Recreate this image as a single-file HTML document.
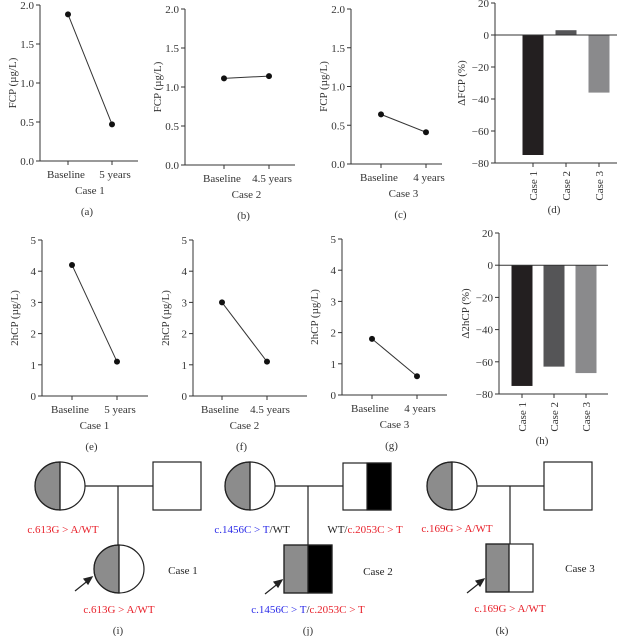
<!DOCTYPE html>
<html><head><meta charset="utf-8">
<style>
html,body{margin:0;padding:0;background:#fff;}
svg{display:block;font-family:"Liberation Serif",serif;}
</style></head>
<body>
<svg id="fig" width="620" height="636" viewBox="0 0 620 636" xmlns="http://www.w3.org/2000/svg">
<!-- Pedigrees -->
<g stroke="#222" stroke-width="1.2">
  <line x1="85" y1="486" x2="153" y2="486"/>
  <line x1="118" y1="486" x2="118" y2="545"/>
  <path d="M60 462 A25 24 0 0 0 60 510 Z" fill="#8c8c8c"/>
  <ellipse cx="60" cy="486" rx="25" ry="24" fill="none"/>
  <line x1="60" y1="462" x2="60" y2="510"/>
  <rect x="153" y="462" width="48" height="48" fill="#fff"/>
  <path d="M119 545 A25 24 0 0 0 119 593 Z" fill="#8c8c8c"/>
  <ellipse cx="119" cy="569" rx="25" ry="24" fill="none"/>
  <line x1="119" y1="545" x2="119" y2="593"/>
  <line x1="75" y1="591" x2="90" y2="579"/>
  <path d="M92 577 L84 579 L88 584 Z" fill="#222"/>
</g>
<text x="63" y="533" font-size="11" fill="#e8202a" text-anchor="middle">c.613G &gt; A/WT</text>
<text x="119" y="613" font-size="11" fill="#e8202a" text-anchor="middle">c.613G &gt; A/WT</text>
<text x="183" y="574" font-size="11" fill="#222" text-anchor="middle">Case 1</text>

<g stroke="#222" stroke-width="1.2">
  <line x1="275" y1="486" x2="343" y2="486"/>
  <line x1="308" y1="486" x2="308" y2="545"/>
  <path d="M250 462 A25 24 0 0 0 250 510 Z" fill="#8c8c8c"/>
  <ellipse cx="250" cy="486" rx="25" ry="24" fill="none"/>
  <line x1="250" y1="462" x2="250" y2="510"/>
  <rect x="343" y="463" width="48" height="47" fill="#fff"/>
  <rect x="367" y="463" width="24" height="47" fill="#000"/>
  <rect x="284" y="545" width="24" height="48" fill="#8c8c8c"/>
  <rect x="308" y="545" width="24" height="48" fill="#000"/>
  <rect x="284" y="545" width="48" height="48" fill="none"/>
  <line x1="265" y1="594" x2="280" y2="582"/>
  <path d="M282 580 L274 582 L278 587 Z" fill="#222"/>
</g>
<text x="252" y="533" font-size="11" text-anchor="middle"><tspan fill="#2a2ae8">c.1456C &gt; T</tspan><tspan fill="#222">/WT</tspan></text>
<text x="365" y="533" font-size="11" text-anchor="middle"><tspan fill="#222">WT/</tspan><tspan fill="#e8202a">c.2053C &gt; T</tspan></text>
<text x="308" y="613" font-size="11" text-anchor="middle"><tspan fill="#2a2ae8">c.1456C &gt; T</tspan><tspan fill="#222">/</tspan><tspan fill="#e8202a">c.2053C &gt; T</tspan></text>
<text x="378" y="575" font-size="11" fill="#222" text-anchor="middle">Case 2</text>

<g stroke="#222" stroke-width="1.2">
  <line x1="477" y1="486" x2="544" y2="486"/>
  <line x1="510" y1="486" x2="510" y2="544"/>
  <path d="M452 462 A25 24 0 0 0 452 510 Z" fill="#8c8c8c"/>
  <ellipse cx="452" cy="486" rx="25" ry="24" fill="none"/>
  <line x1="452" y1="462" x2="452" y2="510"/>
  <rect x="544" y="462" width="48" height="48" fill="#fff"/>
  <rect x="486" y="544" width="23" height="48" fill="#8c8c8c"/>
  <rect x="486" y="544" width="47" height="48" fill="none"/>
  <line x1="509" y1="544" x2="509" y2="592"/>
  <line x1="467" y1="593" x2="482" y2="581"/>
  <path d="M484 579 L476 581 L480 586 Z" fill="#222"/>
</g>
<text x="457" y="532" font-size="11" fill="#e8202a" text-anchor="middle">c.169G &gt; A/WT</text>
<text x="510" y="612" font-size="11" fill="#e8202a" text-anchor="middle">c.169G &gt; A/WT</text>
<text x="580" y="572" font-size="11" fill="#222" text-anchor="middle">Case 3</text>

<text x="118" y="634" font-size="11" fill="#333" text-anchor="middle">(i)</text>
<text x="308" y="634" font-size="11" fill="#333" text-anchor="middle">(j)</text>
<text x="502" y="634" font-size="11" fill="#333" text-anchor="middle">(k)</text>
</svg>
<script>
// ---- data ----
const fcpCase1 = [1.88, 0.47];
const fcpCase2 = [1.11, 1.14];
const fcpCase3 = [0.64, 0.41];
const hcpCase1 = [4.2, 1.1];
const hcpCase2 = [3.0, 1.1];
const hcpCase3 = [1.8, 0.6];
const timeLabels1 = ["Baseline", "5 years"];
const timeLabels2 = ["Baseline", "4.5 years"];
const timeLabels3 = ["Baseline", "4 years"];
const fcpTicks = ["0.0", "0.5", "1.0", "1.5", "2.0"];
const hcpTicks = ["0", "1", "2", "3", "4", "5"];
const barCategories = ["Case 1", "Case 2", "Case 3"];
const deltaFcp = [-75, 3, -36];
const deltaHcp = [-75, -63, -67];
const barTicks = ["20", "0", "-20", "-40", "-60", "-80"];

const NS = "http://www.w3.org/2000/svg";
const svg = document.getElementById("fig");
function mk(tag, attrs, parent, text) {
  const e = document.createElementNS(NS, tag);
  for (const k in attrs) e.setAttribute(k, attrs[k]);
  if (text !== undefined) e.textContent = text;
  (parent || svg).appendChild(e);
  return e;
}

function linePanel(cfg) {
  const g = mk("g", {});
  
  
  const tickVals = cfg.ticks.map(Number);
  const lo = tickVals[0], hi = tickVals[tickVals.length - 1];
  const y = v => cfg.y0 - (v - lo) / (hi - lo) * (cfg.y0 - cfg.y1);
  mk("line", {x1: cfg.ax, y1: cfg.y1, x2: cfg.ax, y2: cfg.y0, stroke: "#333", "stroke-width": 1}, g);
  mk("line", {x1: cfg.ax, y1: cfg.y0, x2: cfg.axEnd, y2: cfg.y0, stroke: "#333", "stroke-width": 1}, g);
  cfg.ticks.forEach((t, i) => {
    const ty = y(tickVals[i]);
    mk("line", {x1: cfg.ax - 4, y1: ty, x2: cfg.ax, y2: ty, stroke: "#333"}, g);
    const tx = mk("text", {x: cfg.ax - 6, y: ty + 4, "font-size": 11, fill: "#333", "text-anchor": "end"}, g, t);
    
    
  });
  const xs = cfg.xs;
  cfg.labels.forEach((l, i) => {
    mk("line", {x1: xs[i], y1: cfg.y0, x2: xs[i], y2: cfg.y0 + 4, stroke: "#333"}, g);
    const tx = mk("text", {x: xs[i] + (i === 0 ? -2 : 3), y: cfg.y0 + 17, "font-size": 11, fill: "#333", "text-anchor": "middle"}, g, l);
    
    
  });
  const pts = cfg.values.map((v, i) => [xs[i], y(v)]);
  const ln = mk("line", {x1: pts[0][0], y1: pts[0][1], x2: pts[1][0], y2: pts[1][1], stroke: "#333", "stroke-width": 1}, g);
  
  
  pts.forEach(p => {
    const c = mk("circle", {cx: p[0], cy: p[1], r: 3, fill: "#111"}, g);
    
    
  });
  const mid = (xs[0] + xs[1]) / 2;
  const ct = mk("text", {x: mid, y: cfg.y0 + 33, "font-size": 11, fill: "#333", "text-anchor": "middle"}, g, cfg.caseLabel);
  
  
  const yt = mk("text", {x: 0, y: 0, "font-size": 11, fill: "#333", "text-anchor": "middle",
    transform: `translate(${cfg.ax - 24},${(cfg.y0 + cfg.y1) / 2}) rotate(-90)`}, g, cfg.yTitle);
  
  
  const pl = mk("text", {x: mid - 3, y: cfg.y0 + 54, "font-size": 11, fill: "#333", "text-anchor": "middle"}, g, cfg.panel);
  
  
}

function barPanel(cfg) {
  const g = mk("g", {});
  
  
  const tickVals = cfg.ticks.map(Number);
  const hi = tickVals[0], lo = tickVals[tickVals.length - 1];
  const y = v => cfg.yBot - (v - lo) / (hi - lo) * (cfg.yBot - cfg.yTop);
  mk("line", {x1: cfg.ax, y1: cfg.yTop, x2: cfg.ax, y2: cfg.yBot, stroke: "#333"}, g);
  mk("line", {x1: cfg.ax, y1: cfg.yBot, x2: cfg.axEnd, y2: cfg.yBot, stroke: "#333"}, g);
  cfg.ticks.forEach((t, i) => {
    const ty = y(tickVals[i]);
    mk("line", {x1: cfg.ax - 4, y1: ty, x2: cfg.ax, y2: ty, stroke: "#333"}, g);
    const tx = mk("text", {x: cfg.ax - 6, y: ty + 4, "font-size": 11, fill: "#333", "text-anchor": "end"}, g, t.replace("-", "\u2212"));
    
    
  });
  const colors = ["#231f20", "#555557", "#8a8a8c"];
  const step = cfg.step, bw = 21;
  cfg.values.forEach((v, i) => {
    const cx = cfg.x0 + i * step;
    const top = Math.min(y(v), y(0)), h = Math.abs(y(v) - y(0));
    const r = mk("rect", {x: cx - bw / 2, y: top, width: bw, height: h, fill: colors[i]}, g);
    
    
    mk("line", {x1: cx, y1: cfg.yBot, x2: cx, y2: cfg.yBot + 4, stroke: "#333"}, g);
    const tx = mk("text", {x: 0, y: 0, "font-size": 11, fill: "#333", "text-anchor": "end",
      transform: `translate(${cx + 4},${cfg.yBot + 8}) rotate(-90)`}, g, cfg.cats[i]);
    
    
  });
  mk("line", {x1: cfg.ax, y1: y(0), x2: cfg.axEnd, y2: y(0), stroke: "#333", "stroke-width": 1}, g);
  const yt = mk("text", {x: 0, y: 0, "font-size": 11, fill: "#333", "text-anchor": "middle",
    transform: `translate(${cfg.ax - 30},${(cfg.yTop + cfg.yBot) / 2}) rotate(-90)`}, g, cfg.yTitle);
  
  
  const pl = mk("text", {x: cfg.x0 + step - 12, y: cfg.yBot + 50, "font-size": 11, fill: "#333", "text-anchor": "middle"}, g, cfg.panel);
  
  
}

linePanel({name: "chart-a-fcp-case1", ax: 40, axEnd: 138, y0: 161, y1: 5, xs: [68, 112], ticks: fcpTicks, values: fcpCase1, labels: timeLabels1, caseLabel: "Case 1", yTitle: "FCP (\u00b5g/L)", panel: "(a)"});
linePanel({name: "chart-b-fcp-case2", ax: 185, axEnd: 295, y0: 165, y1: 9, xs: [224, 269], ticks: fcpTicks, values: fcpCase2, labels: timeLabels2, caseLabel: "Case 2", yTitle: "FCP (\u00b5g/L)", panel: "(b)"});
linePanel({name: "chart-c-fcp-case3", ax: 351, axEnd: 442, y0: 164, y1: 9, xs: [381, 426], ticks: fcpTicks, values: fcpCase3, labels: timeLabels3, caseLabel: "Case 3", yTitle: "FCP (\u00b5g/L)", panel: "(c)"});
barPanel({name: "chart-d-delta-fcp", ax: 495, axEnd: 617, yTop: 3, yBot: 163, x0: 533, step: 33, ticks: barTicks, values: deltaFcp, cats: barCategories, yTitle: "\u0394FCP (%)", panel: "(d)"});

linePanel({name: "chart-e-2hcp-case1", ax: 42, axEnd: 148, y0: 396, y1: 240, xs: [72, 117], ticks: hcpTicks, values: hcpCase1, labels: timeLabels1, caseLabel: "Case 1", yTitle: "2hCP (\u00b5g/L)", panel: "(e)"});
linePanel({name: "chart-f-2hcp-case2", ax: 193, axEnd: 307, y0: 396, y1: 240, xs: [222, 267], ticks: hcpTicks, values: hcpCase2, labels: timeLabels2, caseLabel: "Case 2", yTitle: "2hCP (\u00b5g/L)", panel: "(f)"});
linePanel({name: "chart-g-2hcp-case3", ax: 342, axEnd: 447, y0: 395, y1: 239, xs: [372, 417], ticks: hcpTicks, values: hcpCase3, labels: timeLabels3, caseLabel: "Case 3", yTitle: "2hCP (\u00b5g/L)", panel: "(g)"});
barPanel({name: "chart-h-delta-2hcp", ax: 499, axEnd: 608, yTop: 233, yBot: 394, x0: 522, step: 32, ticks: barTicks, values: deltaHcp, cats: barCategories, yTitle: "\u03942hCP (%)", panel: "(h)"});
</script>
</body></html>
